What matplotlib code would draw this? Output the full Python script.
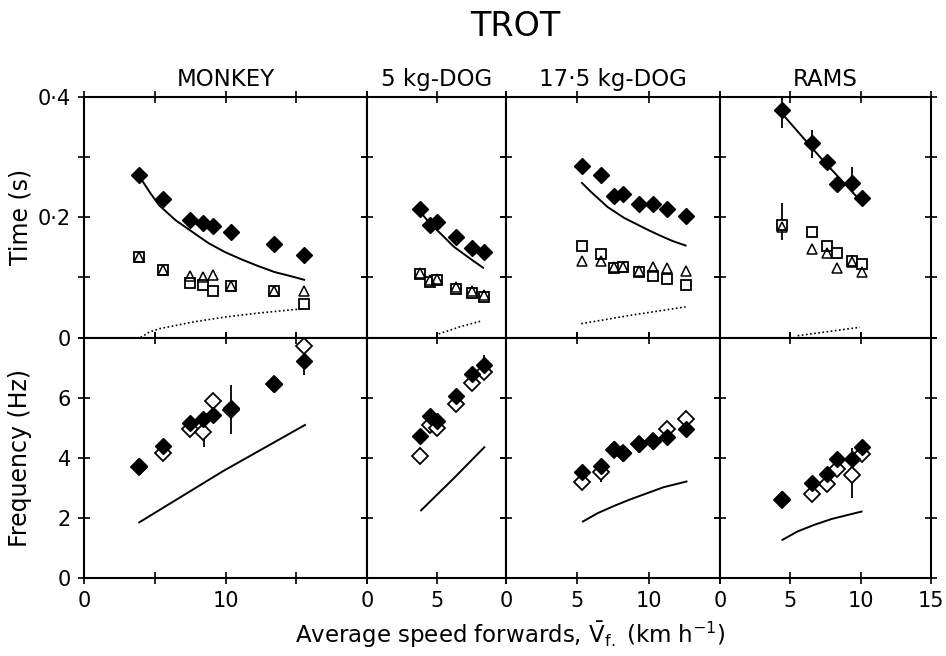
import matplotlib
matplotlib.use("Agg")
import matplotlib.pyplot as plt

plt.rcParams["font.family"] = ["DejaVu Sans"]
plt.rcParams["mathtext.fontset"] = "dejavusans"

# ---- MONKEY ----
monkey_x = [3.9, 5.55, 7.45, 8.4, 9.1, 10.4, 13.4, 15.55]
monkey_period = [0.270, 0.231, 0.195, 0.191, 0.186, 0.176, 0.155, 0.138]
monkey_sq = [0.134, 0.113, 0.091, 0.087, 0.078, 0.085, 0.077, 0.056]
monkey_tri = [0.134, 0.113, 0.103, 0.101, 0.104, 0.085, 0.077, 0.078]
monkey_model_x = [4.02, 4.72, 5.30, 6.47, 7.63, 8.79, 9.96, 11.12, 12.28, 13.44, 14.61, 15.54]
monkey_model_t = [0.264, 0.239, 0.220, 0.195, 0.176, 0.157, 0.142, 0.130, 0.119, 0.109, 0.102, 0.096]
monkey_dot_x = [4.0, 4.61, 5.30, 6.47, 7.63, 9.96, 12.28, 15.54]
monkey_dot_t = [0.0, 0.009, 0.0145, 0.020, 0.0256, 0.034, 0.0406, 0.048]
monkey_freq = [3.71, 4.39, 5.15, 5.29, 5.42, 5.65, 6.45, 7.23]
monkey_freq_open = [3.70, 4.17, 4.96, 4.87, 5.90, 5.60, 6.45, 7.72]
monkey_freq_bars = [(10.4, 4.78, 6.42), (15.55, 6.76, 7.58), (8.45, 4.37, 4.87), (15.55, 7.72, 8.0)]
monkey_model_fx = [3.9, 9.8, 15.6]
monkey_model_f = [1.85, 3.55, 5.09]

# ---- 5 kg DOG ----
dog5_x = [3.8, 4.55, 5.05, 6.4, 7.55, 8.4]
dog5_period = [0.213, 0.187, 0.192, 0.168, 0.149, 0.142]
dog5_sq = [0.106, 0.092, 0.095, 0.081, 0.074, 0.068]
dog5_tri = [0.108, 0.095, 0.097, 0.084, 0.077, 0.071]
dog5_model_x = [3.96, 4.56, 5.28, 6.24, 7.43, 8.35]
dog5_model_t = [0.205, 0.189, 0.173, 0.151, 0.131, 0.116]
dog5_dot_x = [5.15, 6.7, 8.3]
dog5_dot_t = [0.006, 0.018, 0.028]
dog5_freq = [4.73, 5.39, 5.22, 6.06, 6.78, 7.09]
dog5_freq_open = [4.06, 5.09, 5.00, 5.79, 6.50, 6.86]
dog5_freq_bars = [(8.4, 7.09, 7.42)]
dog5_model_fx = [3.88, 6.2, 8.44]
dog5_model_f = [2.25, 3.30, 4.35]

# ---- 17.5 kg DOG ----
dog17_x = [5.35, 6.65, 7.55, 8.2, 9.3, 10.3, 11.3, 12.6]
dog17_period = [0.285, 0.270, 0.235, 0.239, 0.222, 0.222, 0.214, 0.202]
dog17_sq = [0.153, 0.139, 0.116, 0.117, 0.109, 0.103, 0.098, 0.088]
dog17_tri = [0.128, 0.128, 0.117, 0.118, 0.111, 0.117, 0.116, 0.110]
dog17_model_x = [5.33, 5.97, 7.13, 8.28, 9.20, 10.13, 11.05, 11.74, 12.60]
dog17_model_t = [0.257, 0.242, 0.217, 0.199, 0.188, 0.177, 0.167, 0.160, 0.153]
dog17_dot_x = [5.28, 8.74, 12.6]
dog17_dot_t = [0.023, 0.037, 0.051]
dog17_freq = [3.54, 3.73, 4.29, 4.17, 4.45, 4.56, 4.70, 4.96]
dog17_freq_open = [3.19, 3.51, 4.25, 4.15, 4.45, 4.55, 4.95, 5.28]
dog17_freq_bars = [(6.65, 3.20, 3.51)]
dog17_model_fx = [5.40, 6.44, 7.59, 8.74, 9.90, 11.05, 12.66]
dog17_model_f = [1.88, 2.16, 2.40, 2.62, 2.82, 3.02, 3.21]

# ---- RAMS ----
rams_x = [4.4, 6.56, 7.6, 8.3, 9.4, 10.1]
rams_period = [0.378, 0.323, 0.292, 0.255, 0.257, 0.232]
rams_sq = [0.187, 0.176, 0.153, 0.140, 0.128, 0.123]
rams_tri = [0.183, 0.148, 0.140, 0.115, 0.126, 0.109]
rams_time_bars = [(4.4, 0.348, 0.398), (6.56, 0.298, 0.345), (9.4, 0.257, 0.283),
                  (4.4, 0.162, 0.223), (6.56, 0.176, 0.185), (9.4, 0.128, 0.137)]
rams_model_x = [4.4, 7.2, 10.07]
rams_model_t = [0.373, 0.298, 0.2255]
rams_dot_x = [5.53, 9.96]
rams_dot_t = [0.003, 0.017]
rams_freq = [2.62, 3.15, 3.45, 3.95, 3.95, 4.37]
rams_freq_open = [2.60, 2.80, 3.13, 3.62, 3.43, 4.13]
rams_freq_bars = [(9.4, 2.66, 4.33)]
rams_model_fx = [4.45, 5.53, 6.72, 7.92, 9.12, 10.07]
rams_model_f = [1.27, 1.55, 1.77, 1.96, 2.10, 2.21]

titles = ["MONKEY", "5 kg-DOG", "17·5 kg-DOG", "RAMS"]
x_max = [20, 10, 15, 15]
x_ticks = [[0, 5, 10, 15, 20], [0, 5, 10], [0, 5, 10, 15], [0, 5, 10, 15]]
x_ticklabels = [["0", "", "10", "", ""], ["0", "5", ""], ["0", "5", "10", ""],
                ["0", "5", "10", "15"]]

panels = [
    dict(x=monkey_x, period=monkey_period, sq=monkey_sq, tri=monkey_tri,
         mx=monkey_model_x, mt=monkey_model_t, dx=monkey_dot_x, dt=monkey_dot_t,
         tbars=[], freq=monkey_freq, fopen=monkey_freq_open, fbars=monkey_freq_bars,
         mfx=monkey_model_fx, mf=monkey_model_f),
    dict(x=dog5_x, period=dog5_period, sq=dog5_sq, tri=dog5_tri,
         mx=dog5_model_x, mt=dog5_model_t, dx=dog5_dot_x, dt=dog5_dot_t,
         tbars=[], freq=dog5_freq, fopen=dog5_freq_open, fbars=dog5_freq_bars,
         mfx=dog5_model_fx, mf=dog5_model_f),
    dict(x=dog17_x, period=dog17_period, sq=dog17_sq, tri=dog17_tri,
         mx=dog17_model_x, mt=dog17_model_t, dx=dog17_dot_x, dt=dog17_dot_t,
         tbars=[], freq=dog17_freq, fopen=dog17_freq_open, fbars=dog17_freq_bars,
         mfx=dog17_model_fx, mf=dog17_model_f),
    dict(x=rams_x, period=rams_period, sq=rams_sq, tri=rams_tri,
         mx=rams_model_x, mt=rams_model_t, dx=rams_dot_x, dt=rams_dot_t,
         tbars=rams_time_bars, freq=rams_freq, fopen=rams_freq_open, fbars=rams_freq_bars,
         mfx=rams_model_fx, mf=rams_model_f),
]

fig = plt.figure(figsize=(9.46, 6.56), dpi=100)
gs = fig.add_gridspec(2, 4, width_ratios=[20, 9.8, 15.1, 14.9],
                      left=0.0888, right=0.984, top=0.8521, bottom=0.1189,
                      wspace=0, hspace=0)

for j, p in enumerate(panels):
    ax_t = fig.add_subplot(gs[0, j])
    ax_f = fig.add_subplot(gs[1, j])

    # time panel
    ax_t.plot(p["mx"], p["mt"], color="black", linewidth=1.4)
    ax_t.plot(p["dx"], p["dt"], color="black", linestyle=(0, (1, 1.5)), linewidth=1.2)
    for bx, lo, hi in p["tbars"]:
        ax_t.vlines(bx, lo, hi, color="black", linewidth=1.3)
    ax_t.plot(p["x"], p["sq"], "s", markersize=7, markerfacecolor="white",
              markeredgecolor="black", markeredgewidth=1.3, linestyle="none")
    ax_t.plot(p["x"], p["tri"], "^", markersize=6.5, markerfacecolor="none",
              markeredgecolor="black", markeredgewidth=1.1, linestyle="none")
    ax_t.plot(p["x"], p["period"], "D", markersize=8, color="black", linestyle="none")

    # frequency panel
    ax_f.plot(p["mfx"], p["mf"], color="black", linewidth=1.4)
    for bx, lo, hi in p["fbars"]:
        ax_f.vlines(bx, lo, hi, color="black", linewidth=1.3)
    ax_f.plot(p["x"], p["fopen"], "D", markersize=8, markerfacecolor="white",
              markeredgecolor="black", markeredgewidth=1.3, linestyle="none")
    ax_f.plot(p["x"], p["freq"], "D", markersize=8, color="black", linestyle="none")

    ax_t.set_ylim(0, 0.4)
    ax_f.set_ylim(0, 8)
    for ax in (ax_t, ax_f):
        ax.set_xlim(0, x_max[j])
        ax.set_xticks(x_ticks[j])
        ax.tick_params(direction="inout", length=9, width=1.2, top=True, right=True,
                       labelsize=15, pad=5)
        for s in ax.spines.values():
            s.set_linewidth(1.5)
    ax_t.set_xticklabels([])
    ax_f.set_xticklabels(x_ticklabels[j])
    ax_t.set_yticks([0, 0.1, 0.2, 0.3, 0.4])
    ax_f.set_yticks([0, 2, 4, 6, 8])
    if j == 0:
        ax_t.set_yticklabels(["0", "", "0·2", "", "0·4"])
        ax_f.set_yticklabels(["0", "2", "4", "6", ""])
        ax_t.set_ylabel("Time (s)", fontsize=17)
        ax_f.set_ylabel("Frequency (Hz)", fontsize=17)
        ax_t.yaxis.set_label_coords(-0.182, 0.5)
        ax_f.yaxis.set_label_coords(-0.182, 0.5)
    else:
        ax_t.set_yticklabels([])
        ax_f.set_yticklabels([])
    ax_t.set_title(titles[j], fontsize=16.5, pad=8)

fig.text(0.545, 0.960, "TROT", ha="center", va="center", fontsize=24)
fig.text(0.54, 0.033,
         r"Average speed forwards, $\bar{\mathrm{V}}_{\mathrm{f.}}$ (km h$^{-1}$)",
         ha="center", va="center", fontsize=16.5)

fig.savefig("out.png", dpi=100)
